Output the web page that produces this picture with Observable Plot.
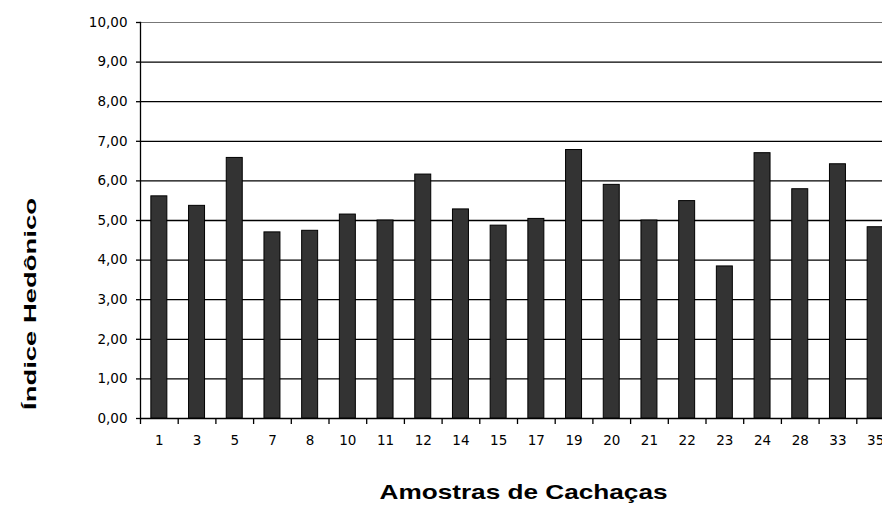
<!DOCTYPE html>
<html>
<head>
<meta charset="utf-8">
<script src="https://cdn.jsdelivr.net/npm/d3@7"></script>
<script src="https://cdn.jsdelivr.net/npm/@observablehq/plot@0.6"></script>
<style>
  html, body { margin: 0; padding: 0; background: #fff; overflow: hidden; }
  #chart { width: 882px; height: 506px; overflow: hidden; }
  #chart svg { max-width: none !important; }
</style>
</head>
<body>
<div id="chart"></div>
<script>
const samples = ["1","3","5","7","8","10","11","12","14","15","17","19","20","21","22","23","24","28","33","35"];
const values  = [5.61, 5.37, 6.58, 4.70, 4.74, 5.15, 5.00, 6.16, 5.28, 4.87, 5.04, 6.78, 5.90, 5.00, 5.49, 3.84, 6.70, 5.79, 6.42, 4.83];
const yTicks = [0,1,2,3,4,5,6,7,8,9,10];
const gridBlack = [0,1,2,3,4,5,6,7,8,9];
const gridTop = [10];
const xTitle = "Amostras de Cachaças";
const yTitle = "Índice Hedônico";

const data = samples.map((s, i) => ({sample: s, value: values[i]}));

const tickFont = "DejaVu Sans, sans-serif";
const labelFont = "Liberation Sans, Arial, sans-serif";

const chart = Plot.plot({
  width: 894,
  height: 506,
  marginLeft: 140,
  marginRight: 0,
  marginTop: 22,
  marginBottom: 88,
  style: {background: "#fff", color: "#000", fontFamily: tickFont, fontSize: "13.5px", overflow: "visible", maxWidth: "none"},
  x: {type: "band", domain: samples, paddingInner: 0.576, paddingOuter: 0.288, round: false, label: null},
  y: {domain: [0, 10], label: null},
  marks: [
    Plot.ruleY(gridBlack, {y: d => d, stroke: "#000", strokeWidth: 1.3}),
    Plot.ruleY(gridTop, {y: d => d, stroke: "#777", strokeWidth: 1}),
    Plot.barY(data, {x: "sample", y: "value", fill: "#333333", stroke: "#000", strokeWidth: 1}),
    Plot.frame({anchor: "left", stroke: "#000", strokeWidth: 1.3}),
    Plot.axisY({ticks: yTicks, tickFormat: d => d.toFixed(2).replace(".", ","), tickSize: 4, tickPadding: 9, fontSize: 13.5, stroke: "#000", strokeWidth: 1.3, label: null}),
    Plot.axisX({tickSize: 0, tickPadding: 17, fontSize: 13.5, label: null}),
    Plot.axisX({tickSize: 6, text: null, dx: -18.85, stroke: "#000", strokeWidth: 1.3, label: null}),
    Plot.text([yTitle], {frameAnchor: "left", text: d => d, rotate: -90, fontSize: 17, fontWeight: "bold", fontFamily: labelFont, fill: "#000"}),
    Plot.text([xTitle], {frameAnchor: "bottom", text: d => d, dx: 6, dy: 73.5, lineAnchor: "middle", fontSize: 21, fontWeight: "bold", fontFamily: labelFont, fill: "#000"})
  ]
});
chart.style.maxWidth = "none";

d3.select(chart).selectAll("text")
  .filter(function() { return this.textContent === yTitle; })
  .attr("textLength", 212).attr("lengthAdjust", "spacingAndGlyphs")
  .attr("text-anchor", "middle")
  .attr("x", null).attr("y", null).attr("dy", "0.35em")
  .attr("transform", "translate(30,304) rotate(-90)")
  .each(function() { this.parentNode.removeAttribute("transform"); });
d3.select(chart).selectAll("text")
  .filter(function() { return this.textContent === xTitle; })
  .attr("textLength", 288).attr("lengthAdjust", "spacingAndGlyphs");

document.getElementById("chart").appendChild(chart);
</script>
</body>
</html>
